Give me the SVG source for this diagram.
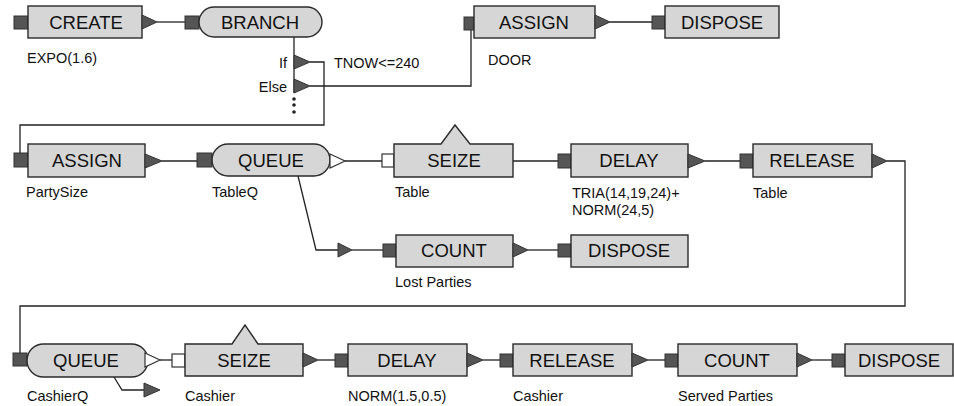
<svg xmlns="http://www.w3.org/2000/svg" width="954" height="406" viewBox="0 0 954 406">
<style>
.b{fill:#d6d6d6;stroke:#2a2a2a;stroke-width:1.4}
.in{fill:#555;stroke:#333;stroke-width:1}
.op{fill:#fff;stroke:#333;stroke-width:1.2}
.tri{fill:#555;stroke:#333;stroke-width:1}
.t{font-family:"Liberation Sans",Arial,sans-serif;font-size:18.5px;fill:#111;text-anchor:middle}
.l{font-family:"Liberation Sans",Arial,sans-serif;font-size:14.5px;fill:#111}
.c{fill:none;stroke:#222;stroke-width:1.3}
</style>
<rect width="954" height="406" fill="#fff"/>
<g id="connectors">
<path class="c" d="M157,22 H185"/>
<path class="c" d="M294,37 V93"/>
<path class="c" d="M310,62 H324 V125 H20 V153"/>
<path class="c" d="M310,86 H471 V30"/>
<path class="c" d="M610,22 H652"/>
<path class="c" d="M162,161 H197"/>
<path class="c" d="M345,161 H382"/>
<path class="c" d="M298,176 L316,250 H338"/>
<path class="c" d="M352,250 H383"/>
<path class="c" d="M513,161 H558"/>
<path class="c" d="M528,250 H558"/>
<path class="c" d="M705,161 H740"/>
<path class="c" d="M887,161 H905 V306 H20 V353"/>
<path class="c" d="M160,360 H172"/>
<path class="c" d="M114,377 L122,390 H144"/>
<path class="c" d="M318,360 H335"/>
<path class="c" d="M483,360 H500"/>
<path class="c" d="M648,360 H665"/>
<path class="c" d="M812,360 H832"/>
</g>
<g id="create1">
<rect class="in" x="14" y="16" width="14" height="13"/>
<rect class="b" x="28" y="6" width="114" height="32"/>
<path class="tri" d="M142,15 L157,22 L142,29 Z"/>
<text class="t" x="86" y="29">CREATE</text>
<text class="l" x="27" y="63">EXPO(1.6)</text>
</g>
<g id="branch">
<rect class="in" x="185" y="16" width="14" height="13"/>
<rect class="b" x="199" y="7" width="123" height="30" rx="15"/>
<text class="t" x="260" y="29">BRANCH</text>
<path class="tri" d="M294,55 L310,62 L294,69 Z"/>
<path class="tri" d="M294,79 L310,86 L294,93 Z"/>
<text class="l" x="287" y="68" text-anchor="end">If</text>
<text class="l" x="287" y="92" text-anchor="end">Else</text>
<text class="l" x="334" y="68">TNOW&lt;=240</text>
<circle cx="294" cy="99" r="1.8" fill="#222"/>
<circle cx="294" cy="105" r="1.8" fill="#222"/>
<circle cx="294" cy="112" r="1.8" fill="#222"/>
</g>
<g id="assign1">
<rect class="in" x="464" y="17" width="10" height="13"/>
<rect class="b" x="474" y="6" width="121" height="32"/>
<path class="tri" d="M595,15 L610,22 L595,29 Z"/>
<text class="t" x="534" y="29">ASSIGN</text>
<text class="l" x="488" y="65">DOOR</text>
</g>
<g id="dispose1">
<rect class="in" x="652" y="16" width="13" height="13"/>
<rect class="b" x="665" y="6" width="114" height="32"/>
<text class="t" x="722" y="29">DISPOSE</text>
</g>
<g id="assign2">
<rect class="in" x="14" y="153" width="14" height="14"/>
<rect class="b" x="28" y="144" width="117" height="33"/>
<path class="tri" d="M145,154 L162,161 L145,168 Z"/>
<text class="t" x="87" y="167">ASSIGN</text>
<text class="l" x="26" y="197">PartySize</text>
</g>
<g id="queue1">
<rect class="in" x="197" y="153" width="15" height="14"/>
<rect class="b" x="212" y="144" width="118" height="32" rx="16"/>
<path class="op" d="M330,154 L345,161 L330,168 Z"/>
<text class="t" x="271" y="167">QUEUE</text>
<text class="l" x="212" y="197">TableQ</text>
</g>
<g id="seize1">
<rect class="op" x="382" y="154" width="12" height="13"/>
<path class="b" d="M394,144 H441 L455,125 L470,144 H513 V177 H394 Z"/>
<text class="t" x="454" y="167">SEIZE</text>
<text class="l" x="395" y="197">Table</text>
</g>
<g id="delay1">
<rect class="in" x="558" y="154" width="13" height="14"/>
<rect class="b" x="571" y="144" width="117" height="33"/>
<path class="tri" d="M688,154 L705,161 L688,168 Z"/>
<text class="t" x="629" y="167">DELAY</text>
<text class="l" x="572" y="198">TRIA(14,19,24)+</text>
<text class="l" x="572" y="215">NORM(24,5)</text>
</g>
<g id="release1">
<rect class="in" x="740" y="154" width="13" height="14"/>
<rect class="b" x="753" y="144" width="119" height="33"/>
<path class="tri" d="M872,154 L887,161 L872,168 Z"/>
<text class="t" x="812" y="167">RELEASE</text>
<text class="l" x="753" y="198">Table</text>
</g>
<g id="lostbranch">
<path class="tri" d="M338,243 L352,250 L338,257 Z"/>
</g>
<g id="count1">
<rect class="in" x="383" y="244" width="13" height="13"/>
<rect class="b" x="396" y="235" width="117" height="32"/>
<path class="tri" d="M513,243 L528,250 L513,257 Z"/>
<text class="t" x="454" y="257">COUNT</text>
<text class="l" x="395" y="287">Lost Parties</text>
</g>
<g id="dispose2">
<rect class="in" x="558" y="244" width="13" height="13"/>
<rect class="b" x="571" y="235" width="117" height="32"/>
<text class="t" x="629" y="257">DISPOSE</text>
</g>
<g id="queue2">
<rect class="in" x="13" y="353" width="14" height="13"/>
<rect class="b" x="27" y="344" width="121" height="33" rx="16.5"/>
<path class="op" d="M145,353 L160,360 L145,367 Z"/>
<text class="t" x="86" y="367">QUEUE</text>
<path class="tri" d="M144,383 L160,390 L144,397 Z"/>
<text class="l" x="27" y="401">CashierQ</text>
</g>
<g id="seize2">
<rect class="op" x="172" y="354" width="13" height="13"/>
<path class="b" d="M185,344 H232 L245,325 L258,344 H303 V376 H185 Z"/>
<path class="tri" d="M303,353 L318,360 L303,367 Z"/>
<text class="t" x="244" y="367">SEIZE</text>
<text class="l" x="185" y="401">Cashier</text>
</g>
<g id="delay2">
<rect class="in" x="335" y="354" width="13" height="13"/>
<rect class="b" x="348" y="344" width="119" height="32"/>
<path class="tri" d="M467,353 L483,360 L467,367 Z"/>
<text class="t" x="407" y="367">DELAY</text>
<text class="l" x="348" y="401">NORM(1.5,0.5)</text>
</g>
<g id="release2">
<rect class="in" x="500" y="354" width="13" height="13"/>
<rect class="b" x="513" y="344" width="119" height="32"/>
<path class="tri" d="M632,353 L648,360 L632,367 Z"/>
<text class="t" x="572" y="367">RELEASE</text>
<text class="l" x="513" y="401">Cashier</text>
</g>
<g id="count2">
<rect class="in" x="665" y="354" width="13" height="13"/>
<rect class="b" x="678" y="344" width="119" height="32"/>
<path class="tri" d="M797,353 L812,360 L797,367 Z"/>
<text class="t" x="737" y="367">COUNT</text>
<text class="l" x="678" y="401">Served Parties</text>
</g>
<g id="dispose3">
<rect class="in" x="832" y="354" width="13" height="13"/>
<rect class="b" x="845" y="344" width="108" height="32"/>
<text class="t" x="899" y="367">DISPOSE</text>
</g>
</svg>
